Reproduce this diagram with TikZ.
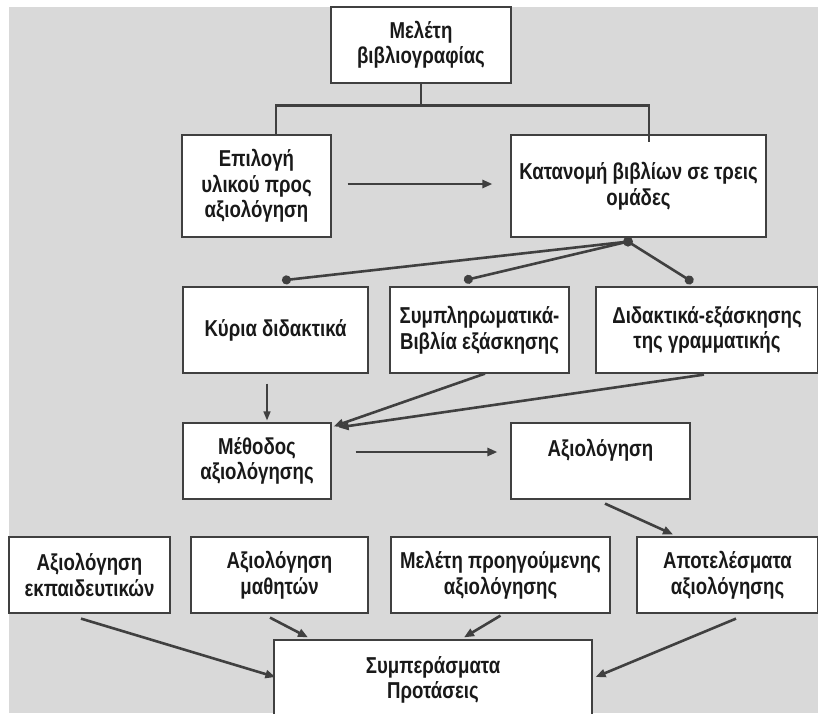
\documentclass[tikz,border=0pt]{standalone}
\usepackage{fontspec}
\setmainfont{Liberation Sans}[FakeStretch=0.81]
\usetikzlibrary{arrows.meta}
\definecolor{bggrey}{HTML}{D9D9D9}
\colorlet{linegrey}{black!75}

\tikzset{
  box/.style={draw=black!75, line width=1.2pt, fill=white, align=center,
    inner sep=2pt, font=\fontsize{23}{25.5}\selectfont\bfseries, text=black!90},
  link/.style={draw=linegrey, line width=2.6pt},
  arr/.style={link, -{Triangle[length=10pt,width=8pt]}},
  thinarr/.style={draw=linegrey, line width=1.5pt, -{Triangle[length=9pt,width=7pt]}},
  dotlink/.style={link, -{Circle[length=9pt]}}
}

\begin{document}
\begin{tikzpicture}[x=1pt,y=-1pt]
\useasboundingbox (0,0) rectangle (818,713);
\fill[bggrey] (9,7) rectangle (818,713);
% top part
\node[box, minimum width=180pt, minimum height=76pt] (lit) at (421,45) {Μελέτη\\βιβλιογραφίας};
\node[box, minimum width=149pt, minimum height=102pt] (sel) at (256.5,186) {Επιλογή\\υλικού προς\\αξιολόγηση};
\node[box, minimum width=255pt, minimum height=102pt] (dist) at (638.5,186) {Κατανομή βιβλίων σε τρεις\\ομάδες};
% three groups
\node[box, minimum width=185pt, minimum height=86pt] (mainb) at (275.5,330) {Κύρια διδακτικά};
\node[box, minimum width=179pt, minimum height=86pt] (supp) at (479.5,330) {Συμπληρωματικά-\\Βιβλία εξάσκησης};
\node[box, minimum width=222pt, minimum height=86pt] (gram) at (707,330) {Διδακτικά-εξάσκησης\\της γραμματικής};
% method
\node[box, minimum width=148pt, minimum height=76pt] (meth) at (257,461) {Μέθοδος\\αξιολόγησης};
\node[box, minimum width=179pt, minimum height=76pt] (eval) at (600.5,461) {Αξιολόγηση\\~};
% bottom row
\node[box, minimum width=161pt, minimum height=76pt] (tch) at (89.5,575) {Αξιολόγηση\\εκπαιδευτικών};
\node[box, minimum width=177pt, minimum height=76pt] (stu) at (279.5,575) {Αξιολόγηση\\μαθητών};
\node[box, minimum width=219pt, minimum height=76pt] (prev) at (500.5,575) {Μελέτη προηγούμενης\\αξιολόγησης};
\node[box, minimum width=181pt, minimum height=76pt] (res) at (727.5,575) {Αποτελέσματα\\αξιολόγησης};
\node[box, minimum width=318pt, minimum height=80pt] (concl) at (433,680) {Συμπεράσματα\\Προτάσεις};

\coordinate (split) at ([yshift=-22pt]lit.south);
\coordinate (hub) at ([xshift=-10.5pt,yshift=-4pt]dist.south);

\draw[link] (lit.south) -- (split);
\draw[link] ([xshift=19.5pt]sel.north) |- (split) -| ([xshift=10.5pt,yshift=-8pt]dist.north);
\draw[arr] ([xshift=16pt,yshift=2pt]sel.east) -- ([xshift=-18pt,yshift=2pt]dist.west);

\draw[dotlink] (hub) -- ([xshift=6.5pt,yshift=6pt]mainb.north);
\draw[dotlink] (hub) -- ([xshift=-15.5pt,yshift=6pt]supp.north);
\draw[dotlink] (hub) -- ([xshift=-14pt,yshift=4pt]gram.north);
\fill[linegrey] (hub) circle (5pt);

\draw[thinarr] ([xshift=-8.5pt,yshift=-10pt]mainb.south) -- ([xshift=10pt,yshift=2pt]meth.north);
\draw[arr] ([xshift=5.5pt]supp.south) -- ([xshift=2pt,yshift=-4pt]meth.north east);
\draw[arr] ([xshift=-3pt,yshift=-1pt]gram.south) -- ([xshift=7pt,yshift=-5pt]meth.north east);
\draw[arr] ([xshift=24pt,yshift=9pt]meth.east) -- ([xshift=-13pt,yshift=9pt]eval.west);
\draw[arr] ([xshift=4.5pt,yshift=-4pt]eval.south) -- ([xshift=-54.5pt,yshift=2pt]res.north);

\draw[arr] ([xshift=-8.5pt,yshift=-5pt]tch.south) -- ([xshift=2pt,yshift=3pt]concl.west);
\draw[arr] ([xshift=-9.5pt,yshift=-4pt]stu.south) -- ([xshift=-125pt,yshift=2pt]concl.north);
\draw[arr] ([yshift=-2pt]prev.south) -- ([xshift=31pt,yshift=2pt]concl.north);
\draw[arr] ([xshift=8.5pt,yshift=-5pt]res.south) -- ([xshift=3pt,yshift=3pt]concl.east);
\end{tikzpicture}
\end{document}
